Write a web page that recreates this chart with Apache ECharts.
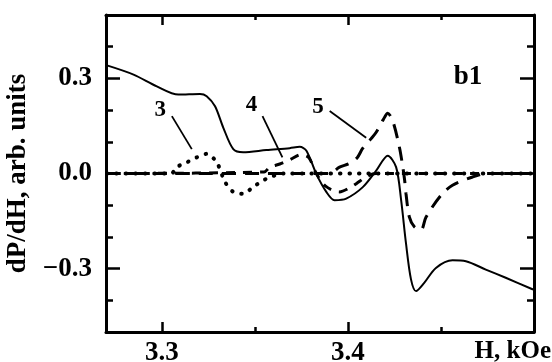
<!DOCTYPE html>
<html>
<head>
<meta charset="utf-8">
<script src="https://cdn.jsdelivr.net/npm/echarts@6/dist/echarts.min.js"></script>
<style>
  html, body { margin: 0; padding: 0; background: #fff; }
  #chart { width: 552px; height: 362px; }
</style>
</head>
<body>
<div id="chart"></div>
<script>
// field values (kOe) and dP/dH
const solidH = [3.2705, 3.2848, 3.2973, 3.3089, 3.3205, 3.3241, 3.3286, 3.333, 3.3384, 3.3437, 3.3562, 3.3687, 3.3741, 3.3777, 3.383, 3.3884, 3.3928, 3.3991, 3.408, 3.4152, 3.4214, 3.4259, 3.4286, 3.4312, 3.4339, 3.4366, 3.441, 3.4473, 3.4562, 3.4634, 3.4741, 3.4848, 3.4995];
const solidV = [0.341, 0.312, 0.275, 0.249, 0.251, 0.244, 0.212, 0.145, 0.077, 0.067, 0.074, 0.080, 0.084, 0.072, -0.001, -0.058, -0.084, -0.079, -0.043, 0.009, 0.056, 0.02, -0.084, -0.22, -0.334, -0.371, -0.345, -0.298, -0.274, -0.277, -0.303, -0.329, -0.366];

const c3H = [3.2705, 3.305, 3.308, 3.3134, 3.3188, 3.3241, 3.3295, 3.334, 3.3384, 3.3437, 3.349, 3.3544, 3.3598, 3.365, 3.4995];
const c3V = [0, 0, 0.02, 0.035, 0.051, 0.062, 0.035, -0.027, -0.058, -0.064, -0.043, -0.022, -0.008, 0, 0];

const c4H = [3.2705, 3.355, 3.358, 3.3634, 3.3687, 3.375, 3.379, 3.383, 3.388, 3.3955, 3.4009, 3.4045, 3.41, 3.415, 3.4995];
const c4V = [0, 0.005, 0.02, 0.03, 0.043, 0.06, 0.05, 0, -0.04, -0.058, -0.045, -0.032, -0.01, 0, 0];

const c5H = [3.2705, 3.39, 3.3955, 3.4009, 3.405, 3.408, 3.4125, 3.4152, 3.419, 3.4214, 3.4241, 3.4277, 3.4295, 3.4305, 3.4312, 3.433, 3.4357, 3.4393, 3.442, 3.45, 3.4562, 3.467, 3.475, 3.4995];
const c5V = [0, 0, 0.02, 0.032, 0.05, 0.08, 0.11, 0.13, 0.17, 0.19, 0.166, 0.082, 0.02, -0.022, -0.063, -0.137, -0.168, -0.178, -0.137, -0.069, -0.037, -0.011, 0, 0];

// curve tags and their leader lines: [from, to]
const tagNames = ["3", "4", "5"];
const tagH = [3.2991, 3.3482, 3.3839];
const tagV = [0.2, 0.216, 0.21];
const leaderH = [[3.3054, 3.3161], [3.3541, 3.3648], [3.3902, 3.4098]];
const leaderV = [[0.181, 0.077], [0.181, 0.051], [0.197, 0.113]];

const xMajor = [3.3, 3.4];
const xMinor = [3.35, 3.45];
const yMajor = [-0.3, 0, 0.3];
const yMinor = [-0.4, -0.2, -0.1, 0.1, 0.2, 0.4];

const FONT = "'Liberation Serif', 'Times New Roman', serif";

function pairs(xs, ys) {
  return xs.map(function (x, i) { return [x, ys[i]]; });
}

function xAx(pos, ticks, len, withLine, withLabel) {
  return {
    type: "value", position: pos, min: 3.27, max: 3.5,
    axisLine: { show: withLine, onZero: false, lineStyle: { color: "#000", width: 3 } },
    axisTick: { show: true, inside: true, length: len, customValues: ticks, lineStyle: { color: "#000", width: 2.5 } },
    axisLabel: withLabel ? {
      show: true, customValues: ticks, margin: 8,
      color: "#000", fontFamily: FONT, fontWeight: "bold", fontSize: 27,
      formatter: function (v) { return v.toFixed(1); }
    } : { show: false },
    splitLine: { show: false }
  };
}

function yAx(pos, ticks, len, withLine, withLabel) {
  const ax = {
    type: "value", position: pos, min: -0.5, max: 0.5,
    axisLine: { show: withLine, onZero: false, lineStyle: { color: "#000", width: 3 } },
    axisTick: { show: true, inside: true, length: len, customValues: ticks, lineStyle: { color: "#000", width: 2.5 } },
    axisLabel: withLabel ? {
      show: true, customValues: ticks, margin: 14,
      color: "#000", fontFamily: FONT, fontWeight: "bold", fontSize: 27,
      formatter: function (v) { return v.toFixed(1).replace("-", "\u2212"); }
    } : { show: false },
    splitLine: { show: false }
  };
  if (withLabel) {
    ax.name = "dP/dH, arb. units";
    ax.nameLocation = "middle";
    ax.nameGap = 72;
    ax.nameRotate = 90;
    ax.nameTextStyle = { color: "#000", fontFamily: FONT, fontWeight: "bold", fontSize: 27 };
  }
  return ax;
}

const series = [
  {
    type: "line", data: pairs(solidH, solidV), smooth: 0.3, showSymbol: false,
    lineStyle: { color: "#000", width: 2 }, z: 5
  },
  {
    type: "line", data: pairs(c3H, c3V), smooth: 0.3, showSymbol: false,
    lineStyle: { color: "#000", width: 4, type: [0.5, 9], cap: "round" }
  },
  {
    type: "line", data: pairs(c4H, c4V), smooth: 0.3, showSymbol: false,
    lineStyle: { color: "#000", width: 3, type: [9, 8] }
  },
  {
    type: "line", data: pairs(c5H, c5V), smooth: 0.3, showSymbol: false,
    lineStyle: { color: "#000", width: 3, type: [14, 9] }
  }
];

leaderH.forEach(function (hs, i) {
  series.push({
    type: "line", data: pairs(hs, leaderV[i]), showSymbol: false, silent: true,
    lineStyle: { color: "#000", width: 1.8 }
  });
});

const chart = echarts.init(document.getElementById("chart"), null, { renderer: "canvas" });
chart.setOption({
  animation: false,
  backgroundColor: "#fff",
  grid: { left: 106, right: 18, top: 15, bottom: 30, outerBoundsMode: "none" },
  xAxis: [
    xAx("bottom", xMajor, 10, true, true),
    xAx("bottom", xMinor, 5, false, false),
    xAx("top", xMajor, 10, true, false),
    xAx("top", xMinor, 5, false, false)
  ],
  yAxis: [
    yAx("left", yMajor, 14, true, true),
    yAx("left", yMinor, 7, false, false),
    yAx("right", yMajor, 14, true, false),
    yAx("right", yMinor, 7, false, false)
  ],
  series: series
});

// text: panel tag, axis name at the end, curve numbers placed through the axes
const texts = [
  {
    type: "text", x: 468, y: 77,
    style: { text: "b1", font: "bold 27px " + FONT, fill: "#000", textAlign: "center", textVerticalAlign: "middle" }
  },
  {
    type: "text", x: 551, y: 339,
    style: { text: "H, kOe", font: "bold 25px " + FONT, fill: "#000", textAlign: "right", textVerticalAlign: "top" }
  }
];
tagNames.forEach(function (n, i) {
  const p = chart.convertToPixel({ xAxisIndex: 0, yAxisIndex: 0 }, [tagH[i], tagV[i]]);
  texts.push({
    type: "text", x: p[0], y: p[1],
    style: { text: n, font: "bold 23px " + FONT, fill: "#000", textAlign: "center", textVerticalAlign: "middle" }
  });
});
chart.setOption({ graphic: texts });
</script>
</body>
</html>
